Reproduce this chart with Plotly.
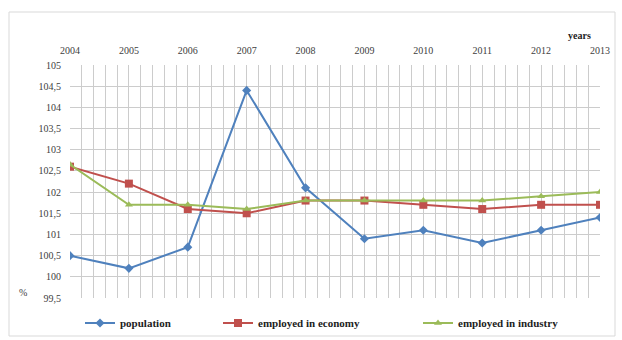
import plotly.graph_objects as go

years = [2004, 2005, 2006, 2007, 2008, 2009, 2010, 2011, 2012, 2013]
population = [100.5, 100.2, 100.7, 104.4, 102.1, 100.9, 101.1, 100.8, 101.1, 101.4]
employed_economy = [102.6, 102.2, 101.6, 101.5, 101.8, 101.8, 101.7, 101.6, 101.7, 101.7]
employed_industry = [102.65, 101.7, 101.7, 101.6, 101.8, 101.8, 101.8, 101.8, 101.9, 102.0]

y_ticks = [99.5, 100, 100.5, 101, 101.5, 102, 102.5, 103, 103.5, 104, 104.5, 105]
y_tick_labels = ["99,5", "100", "100,5", "101", "101,5", "102", "102,5",
                 "103", "103,5", "104", "104,5", "105"]

FONT = "Liberation Serif"
W, H = 622, 340
L, R, T, B = 70, 22, 65, 42

fig = go.Figure()

series = [
    ("population", population, "#4F81BD", "diamond", "legend"),
    ("employed in economy", employed_economy, "#C0504D", "square", "legend2"),
    ("employed in industry", employed_industry, "#9BBB59", "triangle-up", "legend3"),
]
for name, vals, color, sym, leg in series:
    fig.add_trace(go.Scatter(
        x=years, y=vals, name=name, mode="lines+markers",
        line=dict(color=color, width=2),
        marker=dict(symbol=sym, size=7 if sym != "square" else 8, color=color),
        legend=leg, showlegend=True,
    ))

legend_common = dict(
    orientation="h", xref="container", yref="container",
    yanchor="middle", xanchor="left", bgcolor="rgba(0,0,0,0)",
    font=dict(family=FONT, size=11, color="#222222", weight="bold"),
    itemwidth=30,
)

fig.update_layout(
    width=W, height=H,
    margin=dict(l=L, r=R, t=T, b=B, autoexpand=False),
    paper_bgcolor="white", plot_bgcolor="white",
    font=dict(family=FONT, size=10, color="#404040"),
    separators=", ",
    showlegend=True,
    xaxis=dict(
        side="top", range=[2004, 2013], dtick=1, tick0=2004,
        showgrid=True, gridcolor="#cccccc", gridwidth=1,
        minor=dict(dtick=0.2, showgrid=True, gridcolor="#cccccc", gridwidth=1),
        zeroline=False, showline=False, ticks="",
        ticklabelstandoff=8,
        tickfont=dict(family=FONT, size=10, color="#404040"),
    ),
    yaxis=dict(
        range=[99.5, 105], tickvals=y_ticks, ticktext=y_tick_labels,
        showgrid=True, gridcolor="#cccccc", gridwidth=1,
        zeroline=False, showline=False, ticks="",
        ticklabelstandoff=8,
        tickfont=dict(family=FONT, size=10, color="#404040"),
    ),
    legend=dict(x=80 / W, y=17 / H, **legend_common),
    legend2=dict(x=218 / W, y=17 / H, **legend_common),
    legend3=dict(x=418 / W, y=17 / H, **legend_common),
)

pw, ph = W - L - R, H - T - B
fig.add_shape(
    type="rect", xref="paper", yref="paper",
    x0=(9 - L) / pw, x1=(615 - L) / pw,
    y0=(H - B - 336) / ph, y1=(H - B - 12) / ph,
    line=dict(color="#d9d9d9", width=1), layer="below",
)

fig.add_annotation(
    text="<b>years</b>", xref="paper", yref="paper",
    x=(593 - L) / pw, y=(H - B - 28) / ph, showarrow=False,
    font=dict(family=FONT, size=10, color="#222222"),
)
fig.add_annotation(
    text="%", xref="paper", yref="paper",
    x=(17 - L) / pw, y=(H - B - 300) / ph, showarrow=False,
    font=dict(family=FONT, size=10, color="#404040"),
)

fig.write_html("out.html")
